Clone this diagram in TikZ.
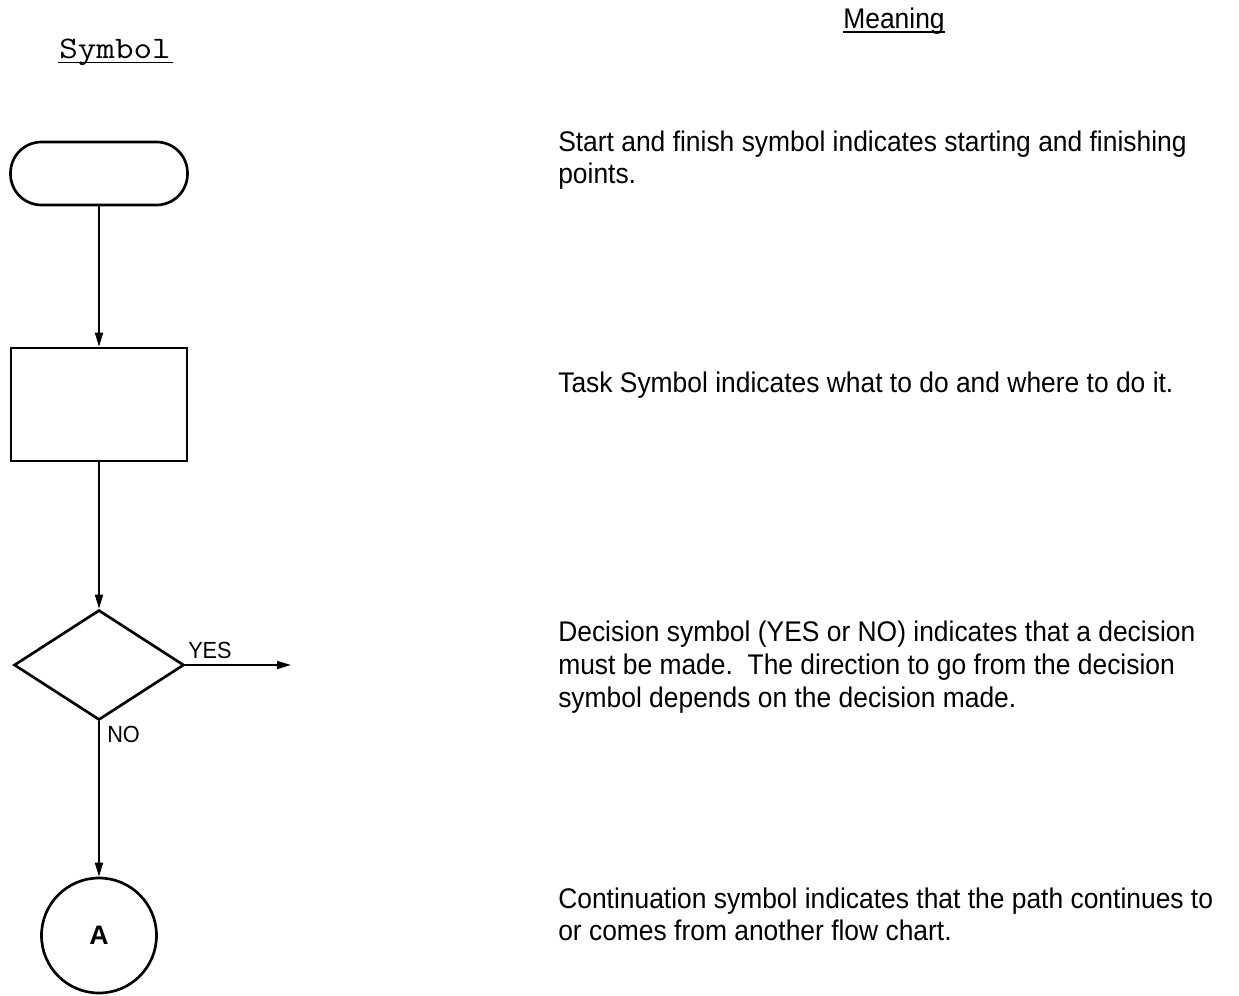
\documentclass[tikz,border=0pt]{standalone}
\usepackage{fontspec}
\setmainfont{Liberation Sans}
\newfontfamily\narrowsans[FakeStretch=0.93]{Liberation Sans}
\usetikzlibrary{arrows.meta,shapes.geometric}
\tikzset{
  shapeline/.style={draw=black, line width=2pt, inner sep=0pt},
  conn/.style={draw=black, line width=1.3pt, -{Triangle[length=10.5pt,width=6pt]}},
  meaning/.style={anchor=base west, inner sep=0pt, font=\narrowsans\fontsize{21.3}{24.4}\selectfont},
  lbl/.style={anchor=base west, inner sep=0pt, font=\narrowsans\fontsize{17.5}{19}\selectfont},
  ul/.style={draw=black, line width=1.4pt}
}
\begin{document}
\begin{tikzpicture}[x=0.75pt,y=-0.75pt]
\useasboundingbox (0,0) rectangle (1239,996);
% headings
\node[inner sep=0pt, anchor=base, font=\ttfamily\fontsize{23.5}{26}\selectfont] (symh) at (115,58) {\scalebox{1.15}[1]{Symbol}};
\draw[ul] (58,62.5) -- (173,62.5);
\node[inner sep=0pt, anchor=base, font=\narrowsans\fontsize{21.3}{24}\selectfont] (meanh) at (894,28) {Meaning};
\draw[ul] (843,32) -- (945,32);
% symbols
\node[shapeline, rectangle, rounded corners=23.25pt, minimum width=132.75pt, minimum height=47.25pt] (term) at (99,173.5) {};
\node[shapeline, rectangle, minimum width=132pt, minimum height=84.75pt] (task) at (99,404.5) {};
\node[shapeline, diamond, minimum width=127.5pt, minimum height=82.5pt] (dec) at (99,665) {};
\node[shapeline, circle, minimum size=86.25pt, font=\bfseries\fontsize{20}{22}\selectfont] (circ) at (99,935.5) {A};
\coordinate (yesend) at (291,665);
% connectors
\draw[conn] (term.south) -- (task.north);
\draw[conn] (task.south) -- (dec.north);
\draw[conn] (dec.east) -- (yesend);
\draw[conn] (dec.south) -- (circ.north);
\node[lbl] (yes) at (188,658) {YES};
\node[lbl] (no) at (107,742) {NO};
% meanings
\node[meaning] (m1a) at (558,151) {Start and finish symbol indicates starting and finishing};
\node[meaning] (m1b) at (558,183) {points.};
\node[meaning] (m2) at (558,392) {Task Symbol indicates what to do and where to do it.};
\node[meaning] (m3a) at (558,641) {Decision symbol (YES or NO) indicates that a decision};
\node[meaning] (m3b) at (558,674) {must be made.\ \ The direction to go from the decision};
\node[meaning] (m3c) at (558,707) {symbol depends on the decision made.};
\node[meaning] (m4a) at (558,908) {Continuation symbol indicates that the path continues to};
\node[meaning] (m4b) at (558,940) {or comes from another flow chart.};
\end{tikzpicture}
\end{document}
